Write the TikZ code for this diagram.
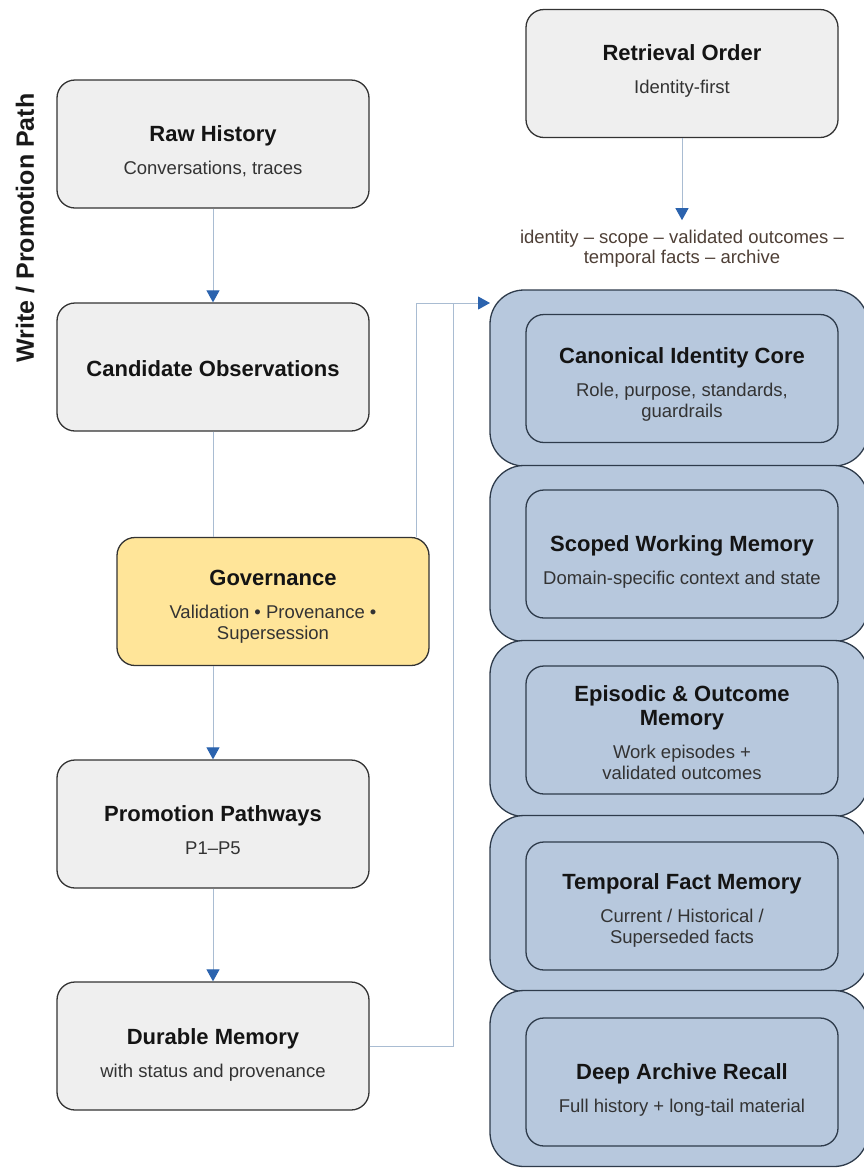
\documentclass[tikz,border=0pt]{standalone}
\usepackage{fontspec}
\setmainfont{Liberation Sans}
\usetikzlibrary{arrows.meta,calc}
\definecolor{boxgray}{HTML}{EFEFEF}
\definecolor{boxline}{HTML}{333333}
\definecolor{govfill}{HTML}{FFE599}
\definecolor{tierfill}{HTML}{B7C8DD}
\definecolor{tierline}{HTML}{2E3B4B}
\definecolor{connline}{HTML}{A9BCD2}
\definecolor{arrowblue}{HTML}{2B63AE}
\definecolor{seqtext}{HTML}{4E3F36}
\definecolor{subtext}{HTML}{333333}
\newcommand{\ttlfont}{\fontsize{22}{26}\selectfont\bfseries}
\newcommand{\subfont}{\fontsize{18.5}{21}\selectfont\mdseries\color{subtext}}
\tikzset{
  card/.style={draw=boxline, line width=1.3pt, rounded corners=18pt,
    minimum width=312pt, minimum height=128pt, inner sep=0pt},
  cardtext/.style={align=center, inner sep=0pt, text=black!92,
    font=\fontsize{18.5}{21}\selectfont},
  graycard/.style={card, fill=boxgray},
  govcard/.style={card, fill=govfill},
  tier/.style={draw=tierline, line width=1.3pt, rounded corners=34pt, fill=tierfill,
    minimum width=378pt, minimum height=176pt, inner sep=0pt},
  innercard/.style={card, fill=tierfill, draw=tierline},
  conn/.style={draw=connline, line width=1pt},
  arr/.style={conn, -{Triangle[length=12pt,width=13pt,color=arrowblue]}},
}
\begin{document}
\begin{tikzpicture}[x=1pt,y=-1pt]
\useasboundingbox (0,0) rectangle (864,1168);

% left label
\node[rotate=90, font=\fontsize{25}{29}\selectfont\bfseries, text=black!90] (lbl) at (25,228) {Write / Promotion Path};

% left column
\node[graycard] (raw) at (213,144) {};
\node[cardtext] (rawt) at ([yshift=-7pt]raw.center) {{\ttlfont Raw History}\\[12pt]{\subfont Conversations, traces}};
\node[graycard] (cand) at (213,367) {};
\node[cardtext] (candt) at ([yshift=-2pt]cand.center) {{\ttlfont Candidate Observations}};
\node[govcard] (gov) at (273,601.5) {};
\node[cardtext] (govt) at ([yshift=-5pt]gov.center) {{\ttlfont Governance}\\[12pt]{\subfont Validation • Provenance •}\\{\subfont Supersession}};
\node[graycard] (prom) at (213,824) {};
\node[cardtext] (promt) at ([yshift=-6pt]prom.center) {{\ttlfont Promotion Pathways}\\[12pt]{\subfont P1–P5}};
\node[graycard] (dm) at (213,1046) {};
\node[cardtext] (dmt) at ([yshift=-9pt]dm.center) {{\ttlfont Durable Memory}\\[12pt]{\subfont with status and provenance}};

% retrieval
\node[graycard] (ret) at (682,73.5) {};
\node[cardtext] (rett) at ([yshift=3pt]ret.center) {{\ttlfont Retrieval Order}\\[12pt]{\subfont Identity-first}};
\node[align=center, inner sep=0pt, text=seqtext, font=\fontsize{18.5}{20}\selectfont] (seq) at (682,249)
  {identity – scope – validated outcomes –\\temporal facts – archive};

% tiers
\node[tier] (t1) at (679,378) {};
\node[tier] (t2) at (679,553.5) {};
\node[tier] (t3) at (679,728.5) {};
\node[tier] (t4) at (679,903.5) {};
\node[tier] (t5) at (679,1078.5) {};

\node[innercard] (c1) at (682,378.5) {};
\node[cardtext] (c1t) at ([yshift=-6pt]c1.center) {{\ttlfont Canonical Identity Core}\\[12pt]{\subfont Role, purpose, standards,}\\{\subfont guardrails}};
\node[innercard] (c2) at (682,554) {};
\node[cardtext] (c2t) at ([yshift=-8pt]c2.center) {{\ttlfont Scoped Working Memory}\\[12pt]{\subfont Domain-specific context and state}};
\node[innercard] (c3) at (682,730) {};
\node[cardtext] (c3t) at ([yshift=-3pt]c3.center) {{\ttlfont Episodic \& Outcome}\\[3pt]{\ttlfont Memory}\\[12pt]{\subfont Work episodes +}\\{\subfont validated outcomes}};
\node[innercard] (c4) at (682,906) {};
\node[cardtext] (c4t) at ([yshift=-4pt]c4.center) {{\ttlfont Temporal Fact Memory}\\[12pt]{\subfont Current / Historical /}\\{\subfont Superseded facts}};
\node[innercard] (c5) at (682,1082) {};
\node[cardtext] (c5t) at ([yshift=-8pt]c5.center) {{\ttlfont Deep Archive Recall}\\[12pt]{\subfont Full history + long-tail material}};

% connectors
\coordinate (entry) at (490,303);
\coordinate (join) at (453,303);
\draw[arr] (raw.south) -- (cand.north);
\draw[conn] (cand.south) -- (cand.south |- gov.north);
\draw[arr] (gov.south -| prom.north) -- (prom.north);
\draw[arr] (prom.south) -- (dm.north);
\draw[arr] (ret.south) -- ([yshift=10pt]seq.north);
\draw[arr] ($(gov.north east)+(-13,0)$) |- (entry);
\draw[conn] (dm.east) -| (join);
\end{tikzpicture}
\end{document}
